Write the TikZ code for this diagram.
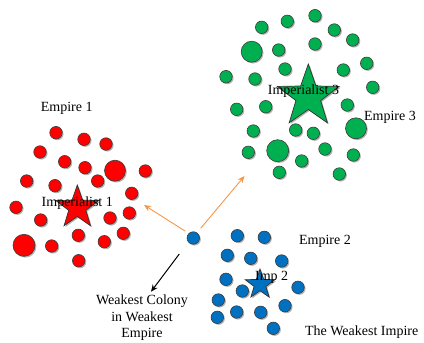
\documentclass[tikz,border=0pt]{standalone}
\usepackage{fontspec}
\setmainfont{Liberation Serif}
\usetikzlibrary{shapes.geometric,shadows,arrows.meta}
\definecolor{cred}{RGB}{255,0,0}
\definecolor{cgreen}{RGB}{0,176,80}
\definecolor{cblue}{RGB}{0,112,192}
\definecolor{corange}{RGB}{247,150,70}
\definecolor{cedge}{RGB}{60,60,60}
\tikzset{
  shad/.style={drop shadow={shadow xshift=1.3pt,shadow yshift=-1.3pt,opacity=0.3,fill=black}},
  colony/.style={circle,draw=cedge,line width=0.6pt,inner sep=0pt,minimum size=12.5pt,shad},
  bigcolony/.style={colony,minimum size=21pt},
  imper/.style={star,star points=5,star point ratio=2.5,draw=black!80,line width=0.7pt,inner sep=0pt,shad},
  lbl/.style={inner sep=0pt,font=\fontsize{14}{16}\selectfont,text=black},
  oarrow/.style={draw=corange,line width=0.9pt,-{Stealth[length=7pt,width=6pt]}},
  barrow/.style={draw=black,line width=1pt,-{Stealth[length=7pt,width=6pt]}}
}
\begin{document}
\begin{tikzpicture}[x=1pt,y=-1pt]
\useasboundingbox (0,0) rectangle (424,343);
% Empire 1 (red)
\foreach \px/\py [count=\i] in {56/132.7,84/139.3,106/144,40/152,64.7/161.7,85/167.7,145.3/171,26.7/181,55/185.7,97.7/181,131.7/193.3,16/207.3,40.7/220,110/218,129.3/213,78.3/235.3,104.3/241.7,123.3/233.3,51.7/246,78.7/260.7}
  \node[colony,fill=cred] (r\i) at (\px,\py) {};
\node[bigcolony,fill=cred] (rb1) at (115,170.7) {};
\node[bigcolony,fill=cred,minimum size=22pt] (rb2) at (24,245.3) {};
\node[imper,fill=cred,minimum size=45pt] (s1) at (77.3,207.5) {};
% Empire 3 (green)
\foreach \px/\py [count=\i] in {261.7/27.3,287.3/21.3,315/15.7,334.3/30,352.7/40,278.7/50,315/44,366.7/63.3,285/69,343.3/70,226/76.7,255/79,372.7/87.3,236.7/109.3,265.7/106.7,347.3/105,253.3/131,295.7/130,313.3/133.3,248.3/152.3,325/149,353.3/155,301.7/161,279.3/172.3,339.3/174}
  \node[colony,fill=cgreen] (g\i) at (\px,\py) {};
\node[bigcolony,fill=cgreen] (gb1) at (251.7,51.7) {};
\node[bigcolony,fill=cgreen] (gb2) at (356,128.3) {};
\node[bigcolony,fill=cgreen,minimum size=22pt] (gb3) at (277.7,150.7) {};
\node[imper,fill=cgreen,minimum size=65pt] (s3) at (308.3,96.5) {};
% Empire 2 (blue)
\foreach \px/\py [count=\i] in {237.3/235.7,264.3/237.3,227.3/255.3,250.7/258.3,281.7/261,226/279.3,242.3/291,298/287.3,218.3/300,236.7/312,260.7/312.3,285/305.7,217.3/317.3,273.3/328.3}
  \node[colony,fill=cblue] (b\i) at (\px,\py) {};
\node[imper,fill=cblue,minimum size=31pt] (s2) at (260,284.5) {};
% weakest colony
\node[colony,fill=cblue] (w) at (193.3,238) {};
\coordinate (t1) at (144,205);
\coordinate (t3) at (244.5,176);
\coordinate (wb) at (179.3,254);
\coordinate (t2) at (151,291.7);
\coordinate (wo1) at (185,231);
\coordinate (wo2) at (200.7,228.3);
\draw[oarrow] (wo1) -- (t1);
\draw[oarrow] (wo2) -- (t3);
\draw[barrow] (wb) -- (t2);
% labels
\node[lbl] (le1) at (66.7,108) {Empire 1};
\node[lbl] (li1) at (77.3,203) {Imperialist 1};
\node[lbl] (li3) at (303.5,91.5) {Imperialist 3};
\node[lbl] (le3) at (390,117.3) {Empire 3};
\node[lbl] (le2) at (325,241.7) {Empire 2};
\node[lbl] (li2) at (271.7,277.3) {Imp 2};
\node[lbl] (lwi) at (361.7,331.7) {The Weakest Impire};
\node[lbl,align=center,font=\fontsize{14}{16.5}\selectfont] (lwc) at (142,318) {Weakest Colony\\in Weakest\\Empire};
\end{tikzpicture}
\end{document}
